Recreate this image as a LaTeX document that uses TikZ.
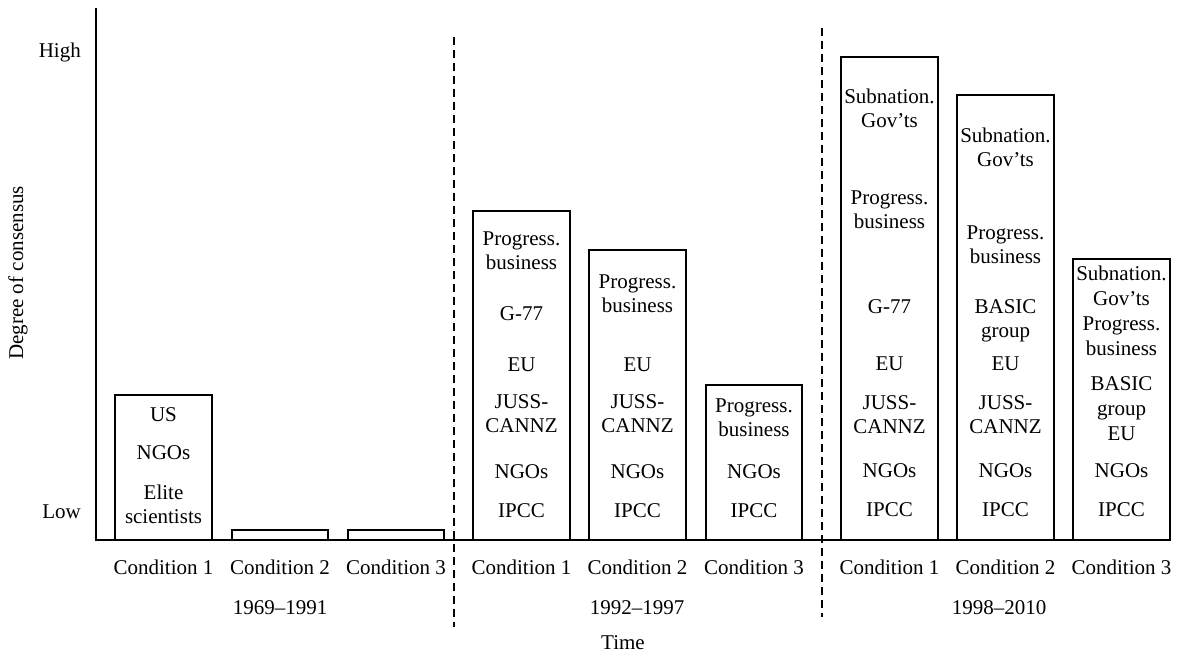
\documentclass[tikz,border=0pt]{standalone}
\usepackage{fontspec}
\setmainfont{Liberation Serif}
\begin{document}
\begin{tikzpicture}[x=1pt,y=-1pt,
  lbl/.style={font=\fontsize{21}{24}\selectfont, align=center, inner sep=0pt},
  bar/.style={draw=black, line width=1.1pt},
  axisline/.style={line width=2pt},
  divider/.style={line width=1.4pt, dash pattern=on 8pt off 5pt}]
\useasboundingbox (0,0) rectangle (1177,656);
% axes
\coordinate (ytop) at (96,8);
\coordinate (origin) at (96,540);
\coordinate (xend) at (1150,540);
% bars
\draw[bar] (115,540) rectangle (212,395);
\draw[bar] (232,540) rectangle (328,530);
\draw[bar] (348,540) rectangle (444,530);
\draw[bar] (473,540) rectangle (570,211);
\draw[bar] (589,540) rectangle (686,250);
\draw[bar] (706,540) rectangle (802,385);
\draw[bar] (841,540) rectangle (938,57);
\draw[bar] (957,540) rectangle (1054,95);
\draw[bar] (1073,540) rectangle (1170,259);
\draw[axisline] (ytop) -- (origin) -- (xend);
% dividers
\coordinate (d1t) at (454,37); \coordinate (d1b) at (454,627);
\coordinate (d2t) at (822,28); \coordinate (d2b) at (822,617);
\draw[divider] (d1t) -- (d1b);
\draw[divider] (d2t) -- (d2b);
% axis labels
\node[lbl, anchor=east] (high) at (81,52) {High};
\node[lbl, anchor=east] (low) at (81,512) {Low};
\node[lbl, rotate=90] (ylab) at (18,273) {Degree of consensus};
\node[lbl] (time) at (623,643) {Time};
% period 1
\node[lbl] (a1) at (163.5,415) {US};
\node[lbl] (a2) at (163.5,453) {NGOs};
\node[lbl] (a3) at (163.5,504.5) {Elite\\scientists};
% period 2
\node[lbl] (b1) at (521.5,251) {Progress.\\business};
\node[lbl] (b2) at (521.5,314) {G-77};
\node[lbl] (b3) at (521.5,365) {EU};
\node[lbl] (b4) at (521.5,414) {JUSS-\\CANNZ};
\node[lbl] (b5) at (521.5,472) {NGOs};
\node[lbl] (b6) at (521.5,511) {IPCC};
\node[lbl] (c1) at (637.5,293.5) {Progress.\\business};
\node[lbl] (c3) at (637.5,365) {EU};
\node[lbl] (c4) at (637.5,414) {JUSS-\\CANNZ};
\node[lbl] (c5) at (637.5,472) {NGOs};
\node[lbl] (c6) at (637.5,511) {IPCC};
\node[lbl] (e1) at (754,418) {Progress.\\business};
\node[lbl] (e5) at (754,472) {NGOs};
\node[lbl] (e6) at (754,511) {IPCC};
% period 3
\node[lbl] (f1) at (889.5,108) {Subnation.\\Gov'ts};
\node[lbl] (f2) at (889.5,209.5) {Progress.\\business};
\node[lbl] (f3) at (889.5,307) {G-77};
\node[lbl] (f4) at (889.5,364) {EU};
\node[lbl] (f5) at (889.5,414.5) {JUSS-\\CANNZ};
\node[lbl] (f6) at (889.5,471) {NGOs};
\node[lbl] (f7) at (889.5,510) {IPCC};
\node[lbl] (g1) at (1005.5,147) {Subnation.\\Gov'ts};
\node[lbl] (g2) at (1005.5,245) {Progress.\\business};
\node[lbl] (g3) at (1005.5,320.5) {BASIC\\group};
\node[lbl] (g4) at (1005.5,364) {EU};
\node[lbl] (g5) at (1005.5,414.5) {JUSS-\\CANNZ};
\node[lbl] (g6) at (1005.5,471) {NGOs};
\node[lbl] (g7) at (1005.5,510) {IPCC};
\node[lbl, font=\fontsize{21}{25}\selectfont] (h1) at (1121.5,311) {Subnation.\\Gov'ts\\Progress.\\business};
\node[lbl, font=\fontsize{21}{25}\selectfont] (h2) at (1121.5,408.5) {BASIC\\group\\EU};
\node[lbl] (h6) at (1121.5,471) {NGOs};
\node[lbl] (h7) at (1121.5,510) {IPCC};
% condition labels
\foreach \x/\n in {163.5/1,280/2,396/3,521.5/1,637.5/2,754/3,889.5/1,1005.5/2,1121.5/3}
  \node[lbl] at (\x,567) {Condition \n};
\node[lbl] (p1) at (280,608) {1969--1991};
\node[lbl] (p2) at (637,608) {1992--1997};
\node[lbl] (p3) at (999,608) {1998--2010};
\end{tikzpicture}
\end{document}
